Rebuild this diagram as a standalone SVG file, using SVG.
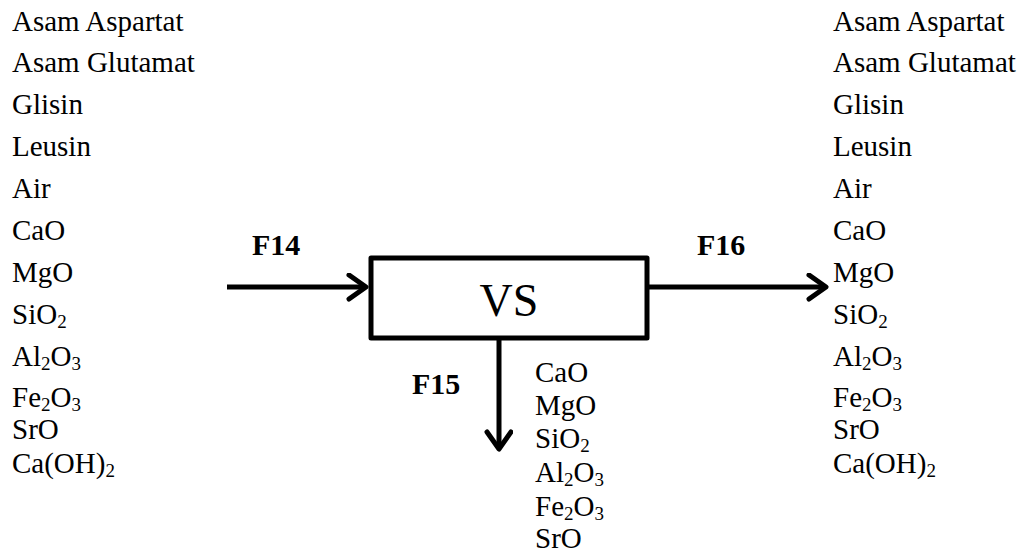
<svg xmlns="http://www.w3.org/2000/svg" width="1024" height="554" viewBox="0 0 1024 554">
<defs>
<style>
.t{font-family:"Liberation Serif","Times New Roman",serif;font-size:29px;fill:#000}
.b{font-family:"Liberation Serif","Times New Roman",serif;font-size:30px;font-weight:bold;fill:#000}
.vs{font-family:"Liberation Serif","Times New Roman",serif;font-size:46px;fill:#000}
.s{font-size:19px}
.ln{stroke:#000;stroke-width:5;fill:none}
</style>
<marker id="ah" markerWidth="24" markerHeight="30" refX="20" refY="14" markerUnits="userSpaceOnUse" orient="auto">
<path d="M3,2 L20,14 L3,26" fill="none" stroke="#000" stroke-width="5" stroke-linecap="round" stroke-linejoin="round"/>
</marker>
</defs>
<rect width="1024" height="554" fill="#fff"/>
<g id="feed-list">
<text class="t" x="12" y="31">Asam Aspartat</text>
<text class="t" x="12" y="72">Asam Glutamat</text>
<text class="t" x="12" y="114">Glisin</text>
<text class="t" x="12" y="156">Leusin</text>
<text class="t" x="12" y="198">Air</text>
<text class="t" x="12" y="240">CaO</text>
<text class="t" x="12" y="282">MgO</text>
<text class="t" x="12" y="324">SiO<tspan class="s" dy="4">2</tspan></text>
<text class="t" x="12" y="366">Al<tspan class="s" dy="4">2</tspan><tspan dy="-4">O</tspan><tspan class="s" dy="4">3</tspan></text>
<text class="t" x="12" y="407">Fe<tspan class="s" dy="4">2</tspan><tspan dy="-4">O</tspan><tspan class="s" dy="4">3</tspan></text>
<text class="t" x="12" y="439">SrO</text>
<text class="t" x="12" y="473">Ca(OH)<tspan class="s" dy="4">2</tspan></text>
</g>
<g id="vs">
<rect x="371" y="258" width="276" height="80" fill="#fff" stroke="#000" stroke-width="5" stroke-linejoin="round"/>
<text class="vs" x="509" y="316" text-anchor="middle">VS</text>
</g>
<g id="connectors">
<line class="ln" x1="227" y1="287" x2="366" y2="287" marker-end="url(#ah)"/>
<line class="ln" x1="649" y1="287" x2="826" y2="287" marker-end="url(#ah)"/>
<line class="ln" x1="499" y1="340" x2="499" y2="449" marker-end="url(#ah)"/>
<text class="b" x="252" y="255">F14</text>
<text class="b" x="697" y="255">F16</text>
<text class="b" x="412" y="394">F15</text>
</g>
<g id="f15-list">
<text class="t" x="535" y="382">CaO</text>
<text class="t" x="535" y="415">MgO</text>
<text class="t" x="535" y="448">SiO<tspan class="s" dy="4">2</tspan></text>
<text class="t" x="535" y="482">Al<tspan class="s" dy="4">2</tspan><tspan dy="-4">O</tspan><tspan class="s" dy="4">3</tspan></text>
<text class="t" x="535" y="516">Fe<tspan class="s" dy="4">2</tspan><tspan dy="-4">O</tspan><tspan class="s" dy="4">3</tspan></text>
<text class="t" x="535" y="548">SrO</text>
</g>
<g id="product-list">
<text class="t" x="833" y="31">Asam Aspartat</text>
<text class="t" x="833" y="72">Asam Glutamat</text>
<text class="t" x="833" y="114">Glisin</text>
<text class="t" x="833" y="156">Leusin</text>
<text class="t" x="833" y="198">Air</text>
<text class="t" x="833" y="240">CaO</text>
<text class="t" x="833" y="282">MgO</text>
<text class="t" x="833" y="324">SiO<tspan class="s" dy="4">2</tspan></text>
<text class="t" x="833" y="366">Al<tspan class="s" dy="4">2</tspan><tspan dy="-4">O</tspan><tspan class="s" dy="4">3</tspan></text>
<text class="t" x="833" y="407">Fe<tspan class="s" dy="4">2</tspan><tspan dy="-4">O</tspan><tspan class="s" dy="4">3</tspan></text>
<text class="t" x="833" y="439">SrO</text>
<text class="t" x="833" y="473">Ca(OH)<tspan class="s" dy="4">2</tspan></text>
</g>
</svg>
